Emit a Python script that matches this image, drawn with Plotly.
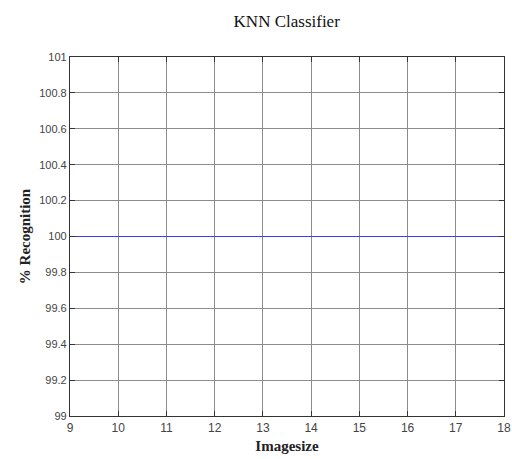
import plotly.graph_objects as go

image_size = [9, 10, 11, 12, 13, 14, 15, 16, 17, 18]
recognition = [100, 100, 100, 100, 100, 100, 100, 100, 100, 100]
x_ticks = [9, 10, 11, 12, 13, 14, 15, 16, 17, 18]
y_ticks = [99, 99.2, 99.4, 99.6, 99.8, 100, 100.2, 100.4, 100.6, 100.8, 101]
y_tick_text = ["99", "99.2", "99.4", "99.6", "99.8", "100", "100.2", "100.4", "100.6", "100.8", "101"]

fig = go.Figure()
fig.add_trace(go.Scatter(x=image_size, y=recognition, mode="lines",
                         line=dict(color="#3a3aff", width=1.2), showlegend=False))

fig.update_layout(
    width=512, height=459,
    margin=dict(l=70, r=8, t=57, b=43),
    paper_bgcolor="white", plot_bgcolor="white",
    title=dict(text="KNN Classifier", x=0.56, xanchor="center", y=0.955, yanchor="middle",
               font=dict(family="Liberation Serif", size=17, color="#111")),
    xaxis=dict(range=[9, 18.0001], tickvals=x_ticks, showgrid=True, gridcolor="#8c8c8c", gridwidth=1,
               showline=True, linecolor="#333", linewidth=1.2, mirror="ticks",
               ticks="inside", ticklen=5, tickcolor="#333", zeroline=False,
               ticklabeloverflow="allow", automargin=False,
               tickfont=dict(family="Liberation Sans", size=12, color="#444"),
               title=dict(text="<b>Imagesize</b>", standoff=6,
                          font=dict(family="Liberation Serif", size=15, color="#222"))),
    yaxis=dict(range=[99, 101], tickvals=y_ticks, ticktext=y_tick_text, showgrid=True,
               gridcolor="#8c8c8c", gridwidth=1, showline=True, linecolor="#333",
               linewidth=1.2, mirror="ticks", ticks="inside", ticklen=5, tickcolor="#333",
               zeroline=False, automargin=False,
               tickfont=dict(family="Liberation Sans", size=11, color="#444"),
               title=dict(text="<b>% Recognition</b>", standoff=4,
                          font=dict(family="Liberation Serif", size=15, color="#222"))),
)

fig.write_html("out.html")
